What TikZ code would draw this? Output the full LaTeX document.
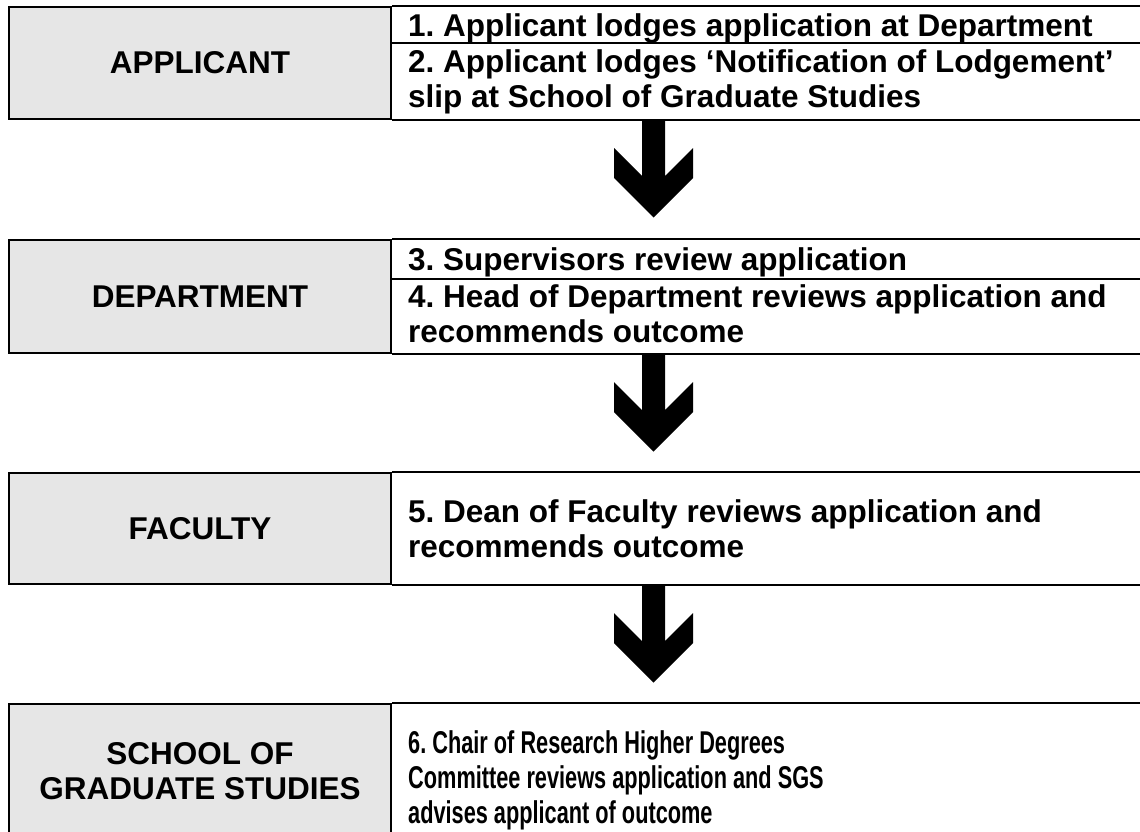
\documentclass[tikz,border=0pt]{standalone}
\usepackage{fontspec}
\setmainfont{Liberation Sans}
\newfontfamily\narrowsans[FakeStretch=0.69]{Liberation Sans}
\frenchspacing

\definecolor{rolegray}{HTML}{E6E6E6}

\tikzset{
  cellline/.style={line width=2pt},
  rolecell/.style={draw, line width=2pt, fill=rolegray, minimum width=382pt,
    inner sep=0pt, align=center, font=\bfseries\fontsize{31.5}{35}\selectfont},
  steptext/.style={anchor=base west, inner sep=0pt,
    font=\bfseries\fontsize{31.5}{35}\selectfont},
  narrowtext/.style={steptext, font=\bfseries\narrowsans\fontsize{31.5}{35}\selectfont},
}

% block arrow hanging below a box, #1 = top centre of the shaft
\newcommand{\flowarrow}[1]{%
  \fill (#1) ++(-11.5,0) -- ++(0,57) -- ++(-28,-28) -- ++(0,30)
    -- ++(39.5,39.5) -- ++(39.5,-39.5) -- ++(0,-30) -- ++(-28,28)
    -- ++(0,-57) -- cycle;}

\begin{document}
\begin{tikzpicture}[x=1pt,y=-1pt]

  % Page frame (pixels of the reference)
  \useasboundingbox (0,0) rectangle (1140,831);

  % ---- Applicant ----
  \node[rolecell, minimum height=112pt] (applicant) at (200,63) {APPLICANT};
  \draw[cellline] (applicant.north east) -- ++(760,0);
  \draw[cellline] (applicant.south east) -- ++(760,0);
  \draw[cellline] (391,43) -- ++(760,0);
  \node[steptext] (s1) at (408,36) {1. Applicant lodges application at Department};
  \node[steptext] (s2a) at (408,72) {2. Applicant lodges ‘Notification of Lodgement’};
  \node[steptext] (s2b) at (408,107) {slip at School of Graduate Studies};

  % Arrow to Department
  \coordinate (arr1) at (653.5,119);
  \flowarrow{arr1}

  % ---- Department ----
  \node[rolecell, minimum height=113pt] (department) at (200,296.5) {DEPARTMENT};
  \draw[cellline] (department.north east) -- ++(760,0);
  \draw[cellline] (department.south east) -- ++(760,0);
  \draw[cellline] (391,279) -- ++(760,0);
  \node[steptext] (s3) at (408,270) {3. Supervisors review application};
  \node[steptext] (s4a) at (408,307) {4. Head of Department reviews application and};
  \node[steptext] (s4b) at (408,342) {recommends outcome};

  % Arrow to Faculty
  \coordinate (arr2) at (653.5,353);
  \flowarrow{arr2}

  % ---- Faculty ----
  \node[rolecell, minimum height=111pt] (faculty) at (200,528.5) {FACULTY};
  \draw[cellline] (faculty.north east) -- ++(760,0);
  \draw[cellline] (faculty.south east) -- ++(760,0);
  \node[steptext] (s5a) at (408,522) {5. Dean of Faculty reviews application and};
  \node[steptext] (s5b) at (408,557) {recommends outcome};

  % Arrow to School of Graduate Studies
  \coordinate (arr3) at (653.5,584);
  \flowarrow{arr3}

  % ---- School of Graduate Studies (runs off the page) ----
  \node[rolecell, minimum height=135pt] (sgs) at (200,771.5) {SCHOOL OF\\GRADUATE STUDIES};
  \draw[cellline] (sgs.north east) -- ++(760,0);
  \node[narrowtext] (s6a) at (408,753) {6. Chair of Research Higher Degrees};
  \node[narrowtext] (s6b) at (408,788) {Committee reviews application and SGS};
  \node[narrowtext] (s6c) at (408,823) {advises applicant of outcome};

\end{tikzpicture}
\end{document}
